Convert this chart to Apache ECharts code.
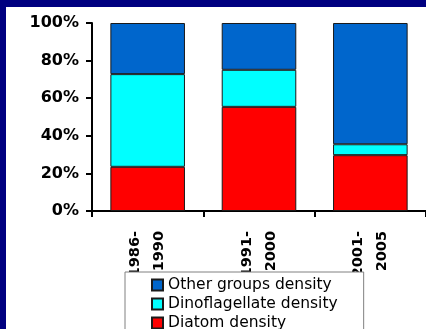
<!DOCTYPE html>
<html>
<head>
<meta charset="utf-8">
<script src="https://cdn.jsdelivr.net/npm/echarts@6/dist/echarts.min.js"></script>
<style>
  html, body { margin: 0; padding: 0; background: #000080; }
  #chart { width: 426px; height: 329px; }
</style>
</head>
<body>
<div id="chart"></div>
<script>
// periods on the x axis
const periods = ['1986-\n1990', '1991-\n2000', '2001-\n2005']
// share of total density (%)
const diatom = [23.5, 55.4, 29.7]
const dinoflagellate = [49.3, 19.7, 5.8]
const otherGroups = [27.2, 24.9, 64.5]

const chart = echarts.init(document.getElementById('chart'))

const barBorder = { borderColor: '#1a1a1a', borderWidth: 1 }

chart.setOption({
  backgroundColor: '#000080',
  animation: false,
  graphic: [
    {
      type: 'rect',
      left: 6,
      top: 7,
      shape: { width: 420, height: 322 },
      style: { fill: '#fff' },
      z: -1
    }
  ],
  grid: {
    left: 92,
    top: 23,
    width: 344,
    height: 188
  },
  // horizontal legend narrow enough that every item wraps onto its own row
  legend: {
    orient: 'horizontal',
    left: 125,
    top: 272,
    width: 200,
    padding: [5, 26, 5, 26],
    borderColor: '#808080',
    borderWidth: 1,
    backgroundColor: '#fff',
    itemWidth: 11,
    itemHeight: 11,
    itemGap: 3,
    icon: 'rect',
    data: ['Other groups density', 'Dinoflagellate density', 'Diatom density'],
    textStyle: {
      fontFamily: 'DejaVu Sans',
      fontSize: 15.5,
      lineHeight: 16,
      color: '#000'
    }
  },
  xAxis: {
    type: 'category',
    data: periods,
    axisLine: { lineStyle: { color: '#000', width: 2 } },
    axisTick: { show: true, alignWithLabel: false, length: 6, lineStyle: { color: '#000', width: 2 } },
    axisLabel: {
      rotate: 90,
      margin: 20,
      fontFamily: 'DejaVu Sans',
      fontWeight: 'bold',
      fontSize: 14.5,
      lineHeight: 24,
      color: '#000'
    }
  },
  yAxis: {
    type: 'value',
    min: 0,
    max: 100,
    interval: 20,
    splitLine: { show: false },
    axisLine: { show: true, lineStyle: { color: '#000', width: 2 } },
    axisTick: { show: true, length: 6, lineStyle: { color: '#000', width: 2 } },
    axisLabel: {
      formatter: '{value}%',
      margin: 13,
      fontFamily: 'DejaVu Sans',
      fontWeight: 'bold',
      fontSize: 16,
      color: '#000'
    }
  },
  series: [
    {
      name: 'Diatom density',
      type: 'bar',
      stack: 'total',
      barCategoryGap: '33%',
      data: diatom,
      itemStyle: Object.assign({ color: '#ff0000' }, barBorder)
    },
    {
      name: 'Dinoflagellate density',
      type: 'bar',
      stack: 'total',
      data: dinoflagellate,
      itemStyle: Object.assign({ color: '#00ffff' }, barBorder)
    },
    {
      name: 'Other groups density',
      type: 'bar',
      stack: 'total',
      data: otherGroups,
      itemStyle: Object.assign({ color: '#0066cc' }, barBorder)
    }
  ]
})
</script>
</body>
</html>
